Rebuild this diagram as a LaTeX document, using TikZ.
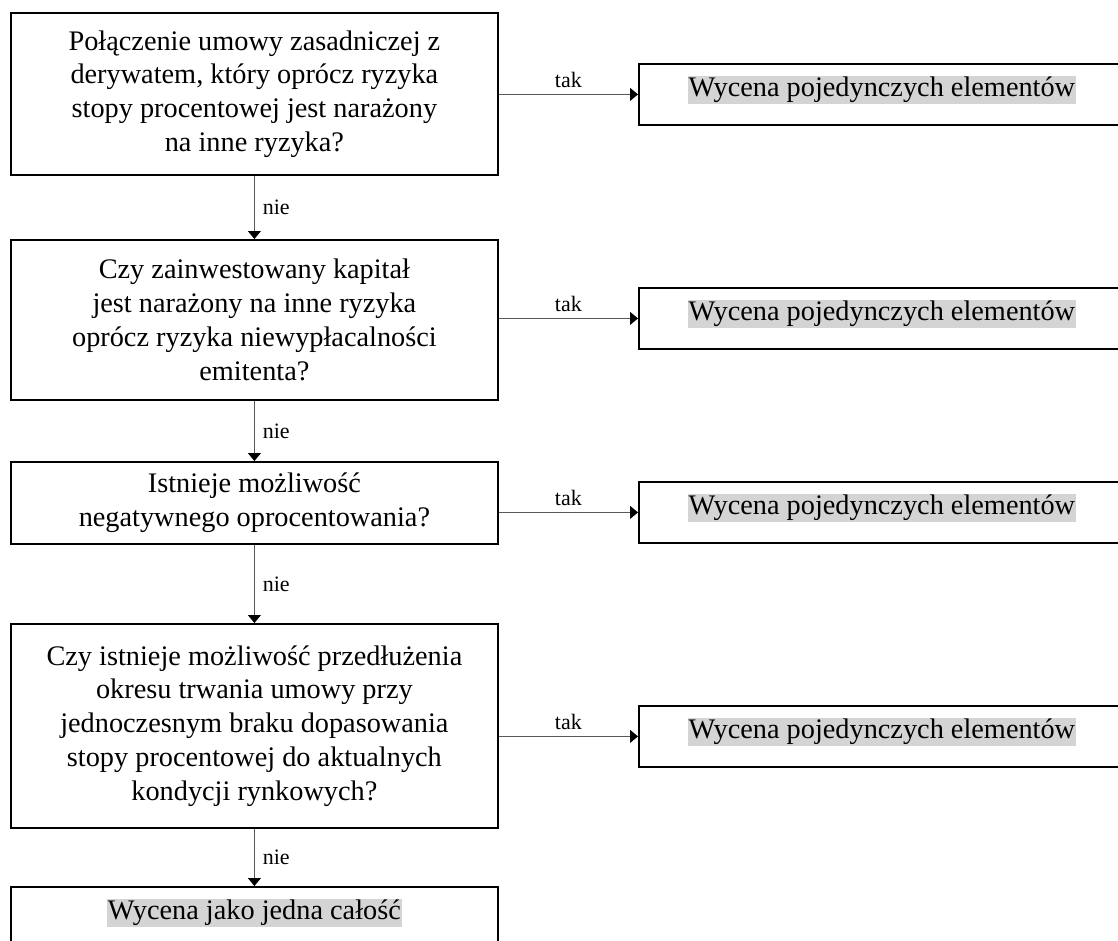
\documentclass[tikz,border=0pt]{standalone}
\usepackage{fontspec}
\setmainfont{Liberation Serif}
\usetikzlibrary{arrows.meta}
\newcommand{\boxtextsize}{\fontsize{28.3pt}{33.7pt}\selectfont}
\newcommand{\arrowlabelsize}{\fontsize{22pt}{26pt}\selectfont}
\newcommand{\shaded}[1]{{\setlength{\fboxsep}{1pt}\colorbox{black!17}{#1}}}
\begin{document}
\begin{tikzpicture}[x=1pt,y=-1pt,
  qbox/.style={draw=black, line width=1.8pt, anchor=north west, minimum width=487pt,
    align=center, inner sep=0pt, font=\boxtextsize},
  abox/.style={draw=black, line width=1.8pt, anchor=north west, minimum width=486pt,
    minimum height=61pt, inner sep=0pt, text depth=16pt, font=\boxtextsize},
  flow/.style={draw=black!65, line width=0.8pt,
    -{Triangle[length=8pt,width=13pt,color=black]}},
  yes/.style={font=\arrowlabelsize, above, inner sep=6pt},
  no/.style={font=\arrowlabelsize, right, inner sep=0pt, xshift=8pt}
]
\useasboundingbox (0,0) rectangle (1118,940);
\clip (0,0) rectangle (1118,940);

% decision boxes
\node[qbox, minimum height=162pt] (b1) at (10,12)
  {Połączenie umowy zasadniczej z\\derywatem, który oprócz ryzyka\\stopy procentowej jest narażony\\na inne ryzyka?};
\node[qbox, minimum height=160pt] (b2) at (10,239)
  {Czy zainwestowany kapitał\\jest narażony na inne ryzyka\\oprócz ryzyka niewypłacalności\\emitenta?};
\node[qbox, minimum height=82pt] (b3) at (10,461)
  {Istnieje możliwość\\negatywnego oprocentowania?};
\node[qbox, minimum height=204pt] (b4) at (10,623)
  {Czy istnieje możliwość przedłużenia\\okresu trwania umowy przy\\jednoczesnym braku dopasowania\\stopy procentowej do aktualnych\\kondycji rynkowych?};
\node[abox, minimum width=487pt] (b5) at (10,886) {\shaded{Wycena jako jedna całość}};

% outcome boxes
\node[abox] (r1) at (638,63)  {\shaded{Wycena pojedynczych elementów}};
\node[abox] (r2) at (638,287) {\shaded{Wycena pojedynczych elementów}};
\node[abox] (r3) at (638,481) {\shaded{Wycena pojedynczych elementów}};
\node[abox] (r4) at (638,705) {\shaded{Wycena pojedynczych elementów}};

% "nie" connectors
\draw[flow] (b1) -- node[no] {nie} (b2);
\draw[flow] (b2) -- node[no] {nie} (b3);
\draw[flow] (b3) -- node[no] {nie} (b4);
\draw[flow] (b4) -- node[no] {nie} (b5);

% "tak" connectors
\draw[flow] (b1.east |- r1.west) -- node[yes] {tak} (r1.west);
\draw[flow] (b2.east |- r2.west) -- node[yes] {tak} (r2.west);
\draw[flow] (b3.east |- r3.west) -- node[yes] {tak} (r3.west);
\draw[flow] (b4.east |- r4.west) -- node[yes] {tak} (r4.west);
\end{tikzpicture}
\end{document}
